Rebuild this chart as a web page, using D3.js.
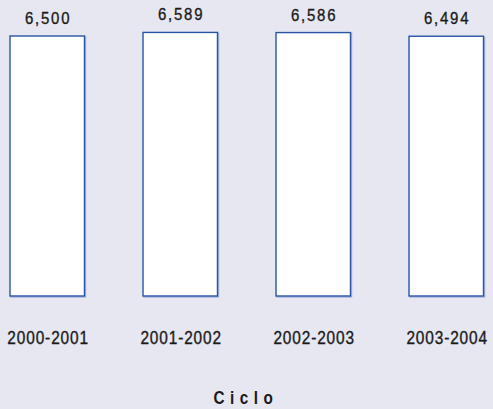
<!DOCTYPE html>
<html>
<head>
<meta charset="utf-8">
<script src="https://cdn.jsdelivr.net/npm/d3@7"></script>
<style>
  body { margin: 0; background: #e6e7f1; }
  text { font-family: "Liberation Sans", Arial, sans-serif; fill: #1a1a1a; }
</style>
</head>
<body>
<div id="chart"></div>
<script>
// chart size
const canvWidth = 493, canvHeight = 409;

// data
const ciclos = ["2000-2001", "2001-2002", "2002-2003", "2003-2004"];
const alumnos = [6500, 6589, 6586, 6494];
const axisTitle = "Ciclo";

// condensed look: squeeze the text horizontally
const squeeze = "scale(0.88,1)";

const svg = d3.select("#chart").append("svg")
    .attr("width", canvWidth)
    .attr("height", canvHeight);

svg.append("rect")
    .attr("width", canvWidth)
    .attr("height", canvHeight)
    .attr("fill", "#e6e7f1");

const data = ciclos.map((c, i) => ({ciclo: c, value: alumnos[i]}));

const x = d3.scaleBand()
    .domain(ciclos)
    .range([10, 483.5])
    .paddingInner(0.44)
    .paddingOuter(0);

// baseline at 296
const y = d3.scaleLinear()
    .domain([0, 7000])
    .range([296, 16]);

const fmt = d3.format(",");

// soft shadow behind each bar
svg.selectAll("rect.shadow")
    .data(data)
    .join("rect")
      .attr("class", "shadow")
      .attr("x", d => x(d.ciclo) + 1)
      .attr("y", d => y(d.value) + 1)
      .attr("width", x.bandwidth())
      .attr("height", d => y(0) - y(d.value))
      .attr("fill", "none")
      .attr("stroke", "#a7b8dc")
      .attr("stroke-width", 1.5);

svg.selectAll("rect.bar")
    .data(data)
    .join("rect")
      .attr("class", "bar")
      .attr("x", d => x(d.ciclo))
      .attr("y", d => y(d.value))
      .attr("width", x.bandwidth())
      .attr("height", d => y(0) - y(d.value))
      .attr("fill", "#ffffff")
      .attr("stroke", "#2854a6")
      .attr("stroke-width", 1.4);

// value labels
svg.selectAll("g.val")
    .data(data)
    .join("g")
      .attr("class", "val")
      .attr("transform", d => `translate(${x(d.ciclo) + x.bandwidth() / 2},${y(d.value) - 12})`)
    .append("text")
      .attr("transform", squeeze)
      .attr("x", 1)
      .attr("text-anchor", "middle")
      .style("font-size", "17px")
      .style("letter-spacing", "2px")
      .style("stroke", "#1a1a1a")
      .style("stroke-width", "0.35px")
      .text(d => fmt(d.value));

// category labels
const xAxis = d3.axisBottom(x).tickSize(0).tickPadding(0);
const gx = svg.append("g")
    .attr("transform", "translate(0,332)")
    .call(xAxis);
gx.select(".domain").remove();
gx.selectAll("text")
    .attr("dy", "0.71em")
    .attr("x", 1)
    .attr("transform", squeeze)
    .style("font-size", "17.5px")
    .style("letter-spacing", "1px")
    .style("font-family", "'Liberation Sans', Arial, sans-serif")
    .style("stroke", "#1a1a1a")
    .style("stroke-width", "0.35px")
    .attr("fill", "#1a1a1a");

// axis title
svg.append("g")
    .attr("transform", "translate(243,404)")
  .append("text")
    .attr("transform", "scale(0.85,1)")
    .attr("x", 3.5)
    .attr("text-anchor", "middle")
    .style("font-size", "18px")
    .style("font-weight", "bold")
    .style("letter-spacing", "6.5px")
    .text(axisTitle);
</script>
</body>
</html>
